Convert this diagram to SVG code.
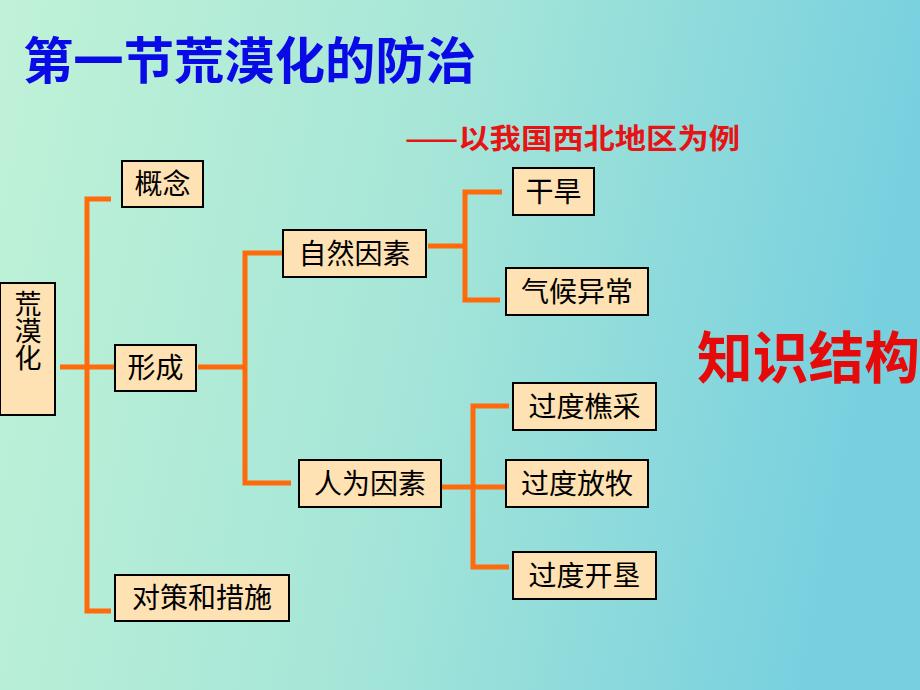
<svg xmlns="http://www.w3.org/2000/svg" width="920" height="690" viewBox="0 0 920 690">
<defs>
<linearGradient id="bg" x1="0" y1="0" x2="1" y2="0.15">
<stop offset="0" stop-color="#c0f2d7"/>
<stop offset="0.5" stop-color="#a6e6d8"/>
<stop offset="1" stop-color="#78d0df"/>
</linearGradient>
<style>
.box{fill:#ffe2b4;stroke:#000;stroke-width:2}
.t{font-family:"Noto Sans CJK SC","Noto Sans CJK JP",sans-serif;font-size:28px;fill:#000;text-anchor:middle}
.c{fill:none;stroke:#ff6a0a;stroke-width:5;stroke-linecap:butt;stroke-linejoin:miter}
</style>
</defs>
<rect x="0" y="0" width="920" height="690" fill="url(#bg)"/>
<text x="23" y="79" font-family="'Noto Sans CJK SC',sans-serif" font-size="50" font-weight="bold" fill="#0a0ae6" textLength="453" lengthAdjust="spacingAndGlyphs">第一节荒漠化的防治</text>
<text x="405" y="149" font-family="'Noto Sans CJK SC',sans-serif" font-size="28" font-weight="bold" fill="#e61414" textLength="335" lengthAdjust="spacingAndGlyphs">——以我国西北地区为例</text>
<text x="697" y="378" font-family="'Noto Sans CJK SC',sans-serif" font-size="56" font-weight="bold" fill="#e60a0a" textLength="223" lengthAdjust="spacingAndGlyphs">知识结构</text>
<g id="connectors">
<path class="c" d="M60 367H120"/>
<path class="c" d="M111 199H87V611H111"/>
<path class="c" d="M198 367H246"/>
<path class="c" d="M283 253H245V483H291"/>
<path class="c" d="M428 246H465"/>
<path class="c" d="M502 192H465V300H500"/>
<path class="c" d="M442 487H505"/>
<path class="c" d="M509 406H473V567H509"/>
</g>
<g id="n-desert"><rect class="box" x="0" y="283" width="55" height="132"/>
<text x="28" y="290" writing-mode="tb" font-family="'Noto Sans CJK SC',sans-serif" font-size="27" fill="#000">荒漠化</text></g>
<g id="n-concept"><rect class="box" x="122" y="161" width="81" height="46"/><text class="t" x="162.5" y="194">概念</text></g>
<g id="n-form"><rect class="box" x="115" y="345" width="81" height="46"/><text class="t" x="155.5" y="378">形成</text></g>
<g id="n-measure"><rect class="box" x="115" y="575" width="174" height="46"/><text class="t" x="202" y="608">对策和措施</text></g>
<g id="n-natural"><rect class="box" x="283" y="230" width="143" height="47"/><text class="t" x="354.5" y="264">自然因素</text></g>
<g id="n-human"><rect class="box" x="299" y="460" width="142" height="47"/><text class="t" x="370" y="494">人为因素</text></g>
<g id="n-drought"><rect class="box" x="513" y="168" width="81" height="47"/><text class="t" x="553.5" y="202">干旱</text></g>
<g id="n-climate"><rect class="box" x="506" y="268" width="142" height="47"/><text class="t" x="577" y="302">气候异常</text></g>
<g id="n-wood"><rect class="box" x="513" y="383" width="143" height="47"/><text class="t" x="584.5" y="417">过度樵采</text></g>
<g id="n-graze"><rect class="box" x="506" y="460" width="142" height="47"/><text class="t" x="577" y="494">过度放牧</text></g>
<g id="n-reclaim"><rect class="box" x="513" y="552" width="143" height="47"/><text class="t" x="584.5" y="586">过度开垦</text></g>
</svg>
